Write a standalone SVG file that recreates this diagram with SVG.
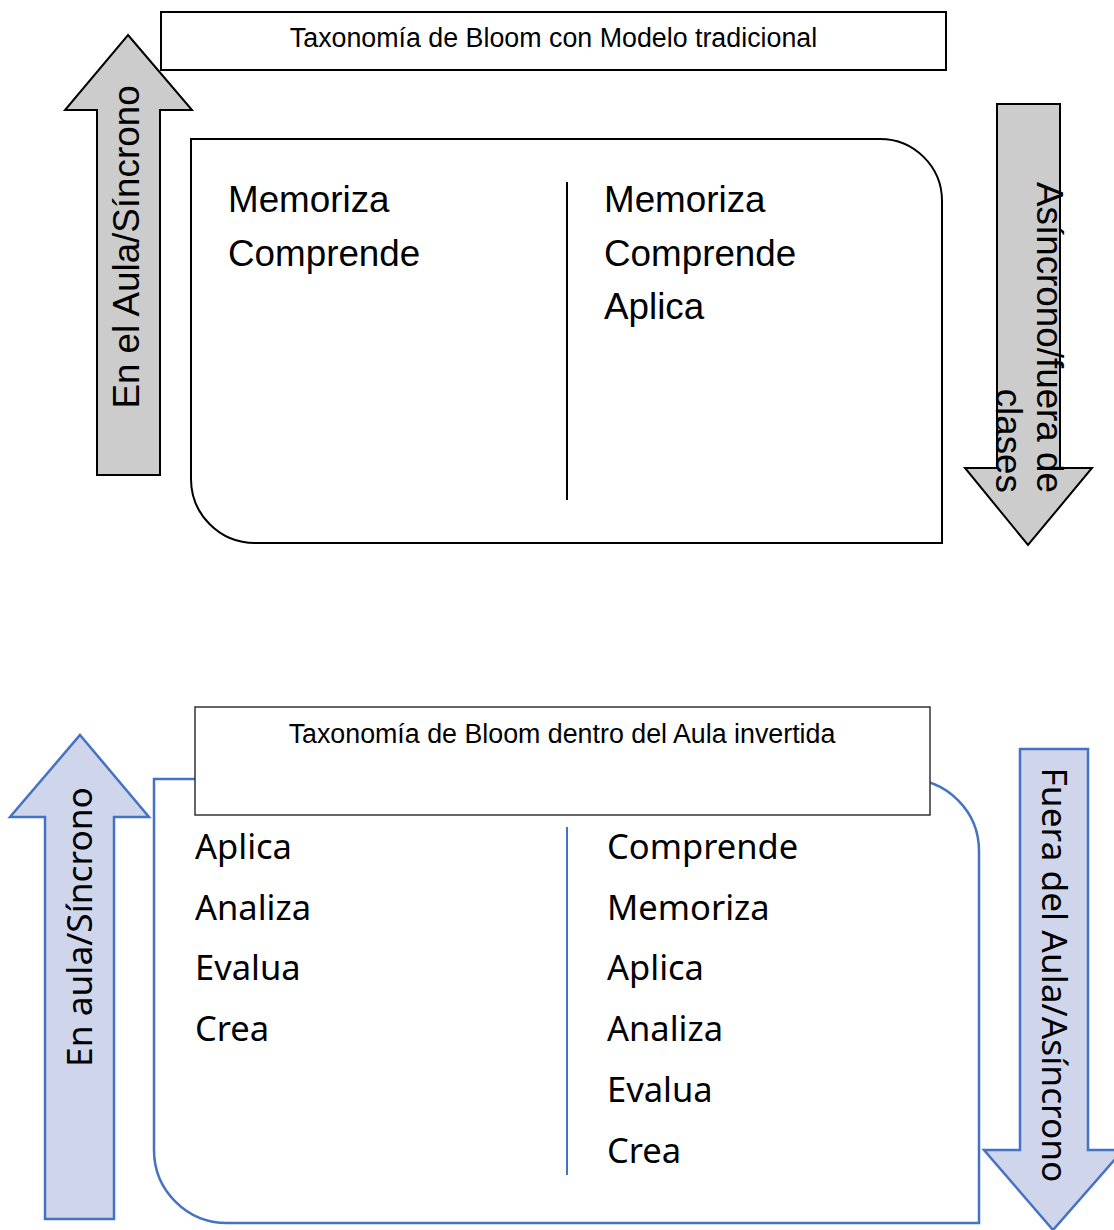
<svg xmlns="http://www.w3.org/2000/svg" width="1114" height="1230" viewBox="0 0 1114 1230">
  <style>
    .title { font-family: "Liberation Sans", Arial, sans-serif; font-size: 26.8px; fill: #000; text-anchor: middle; }
    .arial { font-family: "Liberation Sans", Arial, sans-serif; font-size: 36.8px; fill: #000; }
    .sans { font-family: "Noto Sans", "Open Sans", sans-serif; font-size: 34.5px; fill: #000; }
    .sans-v { font-family: "Noto Sans", "Open Sans", sans-serif; font-size: 35.3px; fill: #000; text-anchor: middle; }
    .grey-arrow { fill: #cccccc; stroke: #000; stroke-width: 2; stroke-linejoin: miter; }
    .blue-arrow { fill: #cfd5ea; stroke: #4472c4; stroke-width: 2.5; stroke-linejoin: miter; }
    .black-box { fill: #fff; stroke: #000; stroke-width: 2; }
    .blue-box { fill: #fff; stroke: #4472c4; stroke-width: 2.5; }
    .title-box { fill: #fff; stroke: #333; stroke-width: 1.5; }
  </style>

  <!-- Traditional model -->
  <g id="traditional-panel">
    <path class="black-box" d="M191,139 H880 A62,62 0 0 1 942,201 V543 H255 A64,64 0 0 1 191,479 Z"/>
    <line x1="567" y1="182" x2="567" y2="500" stroke="#000" stroke-width="2"/>
    <text class="arial" x="228" y="212">Memoriza</text>
    <text class="arial" x="228" y="266">Comprende</text>
    <text class="arial" x="604" y="212">Memoriza</text>
    <text class="arial" x="604" y="266">Comprende</text>
    <text class="arial" x="604" y="319">Aplica</text>
  </g>

  <g id="traditional-title">
    <rect class="black-box" x="161" y="12" width="785" height="58" stroke-width="1.2"/>
    <text class="title" x="553.5" y="47">Taxonomía de Bloom con Modelo tradicional</text>
  </g>

  <g id="traditional-sync-arrow">
    <path class="grey-arrow" d="M128,35 L192,110 H160 V475 H97 V110 H65 Z"/>
    <text class="arial" transform="translate(139,247) rotate(-90)" text-anchor="middle">En el Aula/Síncrono</text>
  </g>

  <g id="traditional-async-arrow">
    <path class="grey-arrow" d="M997,104 H1060 V468 H1092 L1028,545 L965,468 H997 Z"/>
    <g class="arial" text-anchor="end">
      <text transform="translate(1037,493) rotate(90)">Asíncrono/fuera de</text>
      <text transform="translate(996,493) rotate(90)">clases</text>
    </g>
  </g>

  <!-- Flipped classroom -->
  <g id="flipped-panel">
    <path class="blue-box" d="M154,779 H907 A72,72 0 0 1 979,851 V1223 H227 A73,73 0 0 1 154,1150 Z"/>
    <line x1="567" y1="827" x2="567" y2="1175" stroke="#4472c4" stroke-width="2"/>
    <text class="sans" x="195" y="859">Aplica</text>
    <text class="sans" x="195" y="920">Analiza</text>
    <text class="sans" x="195" y="980">Evalua</text>
    <text class="sans" x="195" y="1041">Crea</text>
    <text class="sans" x="607" y="859">Comprende</text>
    <text class="sans" x="607" y="920">Memoriza</text>
    <text class="sans" x="607" y="980">Aplica</text>
    <text class="sans" x="607" y="1041">Analiza</text>
    <text class="sans" x="607" y="1102">Evalua</text>
    <text class="sans" x="607" y="1163">Crea</text>
  </g>

  <g id="flipped-title">
    <rect class="title-box" x="195" y="707" width="735" height="108"/>
    <text class="title" x="562" y="743">Taxonomía de Bloom dentro del Aula invertida</text>
  </g>

  <g id="flipped-sync-arrow">
    <path class="blue-arrow" d="M80,735 L149,817 H114 V1219 H45 V817 H10 Z"/>
    <text class="sans-v" transform="translate(92,927) rotate(-90)">En aula/Síncrono</text>
  </g>

  <g id="flipped-async-arrow">
    <path class="blue-arrow" d="M1020,749 H1088 V1150 H1123 L1053,1230 L984,1150 H1020 Z"/>
    <text class="sans-v" transform="translate(1042,975) rotate(90)">Fuera del Aula/Asíncrono</text>
  </g>

  <!-- no connectors between nodes -->
  <g id="connectors"/>
</svg>
